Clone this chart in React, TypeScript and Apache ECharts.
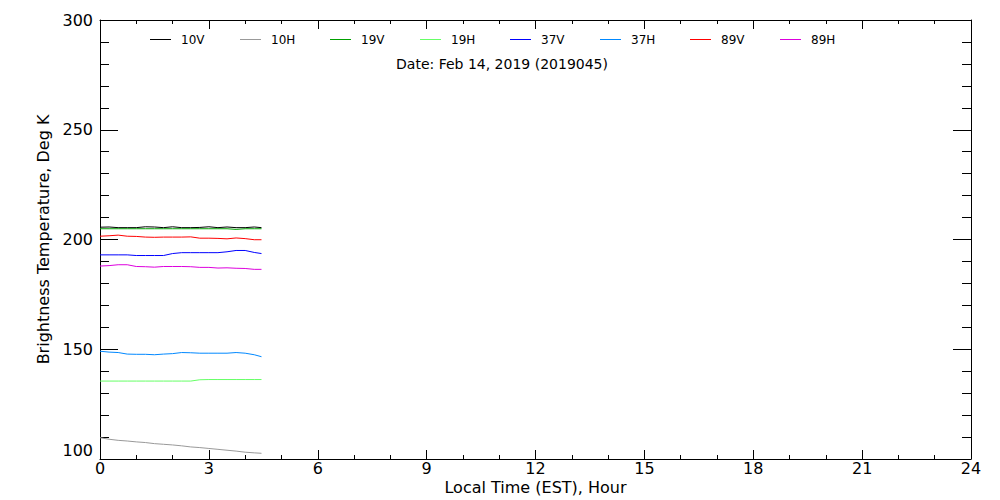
import React, { useEffect, useRef } from "react";
import * as echarts from "echarts";

const hours = [0, 0.25, 0.5, 0.75, 1, 1.25, 1.5, 1.75, 2, 2.25, 2.5, 2.75, 3, 3.25, 3.5, 3.75, 4, 4.25, 4.45];
const tb10V = [205.6, 205.7, 205.4, 205.4, 205.4, 205.8, 205.7, 205.4, 205.8, 205.4, 205.4, 205.5, 205.8, 205.4, 205.7, 205.4, 205.4, 205.7, 205.4];
const tb10H = [109.7, 109.0, 108.5, 108.2, 107.8, 107.5, 107.0, 106.7, 106.4, 106.0, 105.5, 105.2, 104.8, 104.4, 104.0, 103.6, 103.1, 102.8, 102.6];
const tb19V = [204.9, 204.9, 204.9, 204.9, 204.9, 204.9, 204.9, 204.9, 204.9, 204.9, 204.9, 204.9, 204.9, 204.9, 204.9, 204.6, 204.9, 204.9, 204.9];
const tb19H = [135.5, 135.5, 135.5, 135.5, 135.5, 135.5, 135.5, 135.5, 135.5, 135.5, 135.5, 136.1, 136.2, 136.2, 136.2, 136.2, 136.2, 136.2, 136.2];
const tb37V = [193.0, 193.0, 193.0, 193.0, 192.7, 192.7, 192.7, 192.7, 193.6, 194.0, 194.0, 194.0, 194.0, 194.0, 194.4, 195.0, 195.0, 194.1, 193.6];
const tb37H = [149.1, 148.7, 148.5, 147.8, 147.7, 147.7, 147.5, 147.8, 148.0, 148.5, 148.4, 148.2, 148.2, 148.2, 148.2, 148.5, 148.2, 147.5, 146.6];
const tb89V = [201.5, 201.7, 202.0, 201.5, 201.4, 201.1, 201.0, 201.1, 201.1, 201.1, 201.2, 200.6, 200.6, 200.5, 200.3, 200.7, 200.4, 199.9, 199.9];
const tb89H = [187.9, 188.1, 188.5, 188.5, 187.7, 187.6, 187.4, 187.7, 187.7, 187.7, 187.6, 187.3, 187.3, 187.0, 187.1, 186.9, 186.8, 186.4, 186.4];

const channelNames = ["10V", "10H", "19V", "19H", "37V", "37H", "89V", "89H"];
const channelValues = [tb10V, tb10H, tb19V, tb19H, tb37V, tb37H, tb89V, tb89H];
const channelColors = ["#000000", "#999999", "#00a000", "#66ff66", "#0000ff", "#0088ff", "#ff0000", "#dd00dd"];

const dateText = "Date: Feb 14, 2019 (2019045)";
const xName = "Local Time (EST), Hour";
const yName = "Brightness Temperature, Deg K";

const FONT = "DejaVu Sans";

export default function App() {
  const ref = useRef<HTMLDivElement>(null);
  useEffect(() => {
    if (!ref.current) return;
    const chart = echarts.init(ref.current, null, { renderer: "svg" });
    const axisLineStyle = { lineStyle: { color: "#000", width: 1 } };
    const xCommon = {
      type: "value",
      min: 0,
      max: 24,
      interval: 3,
      axisLine: { show: true, onZero: false, ...axisLineStyle },
      axisTick: { show: true, inside: true, length: 9, lineStyle: { color: "#000" } },
      minorTick: { show: true, splitNumber: 3, length: 4, lineStyle: { color: "#000" } },
      splitLine: { show: false },
      minorSplitLine: { show: false },
    };
    const yCommon = {
      type: "value",
      min: 100,
      max: 300,
      interval: 50,
      axisLine: { show: true, onZero: false, ...axisLineStyle },
      axisTick: { show: true, inside: true, length: 18, lineStyle: { color: "#000" } },
      minorTick: { show: true, splitNumber: 5, length: 9, lineStyle: { color: "#000" } },
      splitLine: { show: false },
      minorSplitLine: { show: false },
    };
    const legends = channelNames.map((n, i) => ({
      data: [{ name: n, itemStyle: { color: channelColors[i] } }],
      left: 150 + 90 * i,
      top: 32.5,
      padding: 0,
      icon: "rect",
      itemWidth: 21,
      itemHeight: 1,
      selectedMode: false,
      textStyle: { fontFamily: FONT, fontSize: 12, color: "#000", lineHeight: 14, padding: [0, 0, 0, 5] },
    }));
    chart.setOption({
      animation: false,
      backgroundColor: "#fff",
      title: {
        text: dateText,
        left: 502,
        textAlign: "center",
        top: 57,
        padding: 0,
        textStyle: { fontFamily: FONT, fontSize: 14, fontWeight: "normal", color: "#000" },
      },
      legend: legends,
      grid: { left: 100, right: 29, top: 20, bottom: 41, containLabel: false, outerBoundsMode: "none" },
      xAxis: [
        {
          ...xCommon,
          position: "bottom",
          name: xName,
          nameLocation: "middle",
          nameGap: 20,
          nameMoveOverlap: false,
          nameTextStyle: { fontFamily: FONT, fontSize: 16, color: "#000", lineHeight: 16 },
          axisLabel: { show: true, margin: 1, fontFamily: FONT, fontSize: 16, color: "#000", lineHeight: 16 },
        },
        {
          ...xCommon,
          position: "top",
          axisLabel: { show: false },
        },
      ],
      yAxis: [
        {
          ...yCommon,
          position: "left",
          name: yName,
          nameLocation: "middle",
          nameGap: 49,
          nameMoveOverlap: false,
          nameTextStyle: { fontFamily: FONT, fontSize: 16, color: "#000" },
          axisLabel: {
            show: true,
            margin: 7,
            fontFamily: FONT,
            fontSize: 16,
            color: "#000",
            formatter: (v: number) => (v === 100 ? "{lo|" + v + "}" : String(v)),
            rich: { lo: { fontFamily: FONT, fontSize: 16, color: "#000", padding: [0, 0, 18, 0] } },
          },
        },
        {
          ...yCommon,
          position: "right",
          axisLabel: { show: false },
        },
      ],
      series: channelNames.map((n, i) => ({
        name: n,
        type: "line",
        xAxisIndex: 0,
        yAxisIndex: 0,
        showSymbol: false,
        symbol: "none",
        color: channelColors[i],
        lineStyle: { color: channelColors[i], width: 1 },
        data: hours.map((h, j) => [h, channelValues[i][j]]),
      })),
    });
    return () => chart.dispose();
  }, []);
  return (
    <div
      ref={ref}
      style={{ position: "fixed", left: 0, top: 0, width: 1000, height: 500, background: "#fff" }}
    />
  );
}
